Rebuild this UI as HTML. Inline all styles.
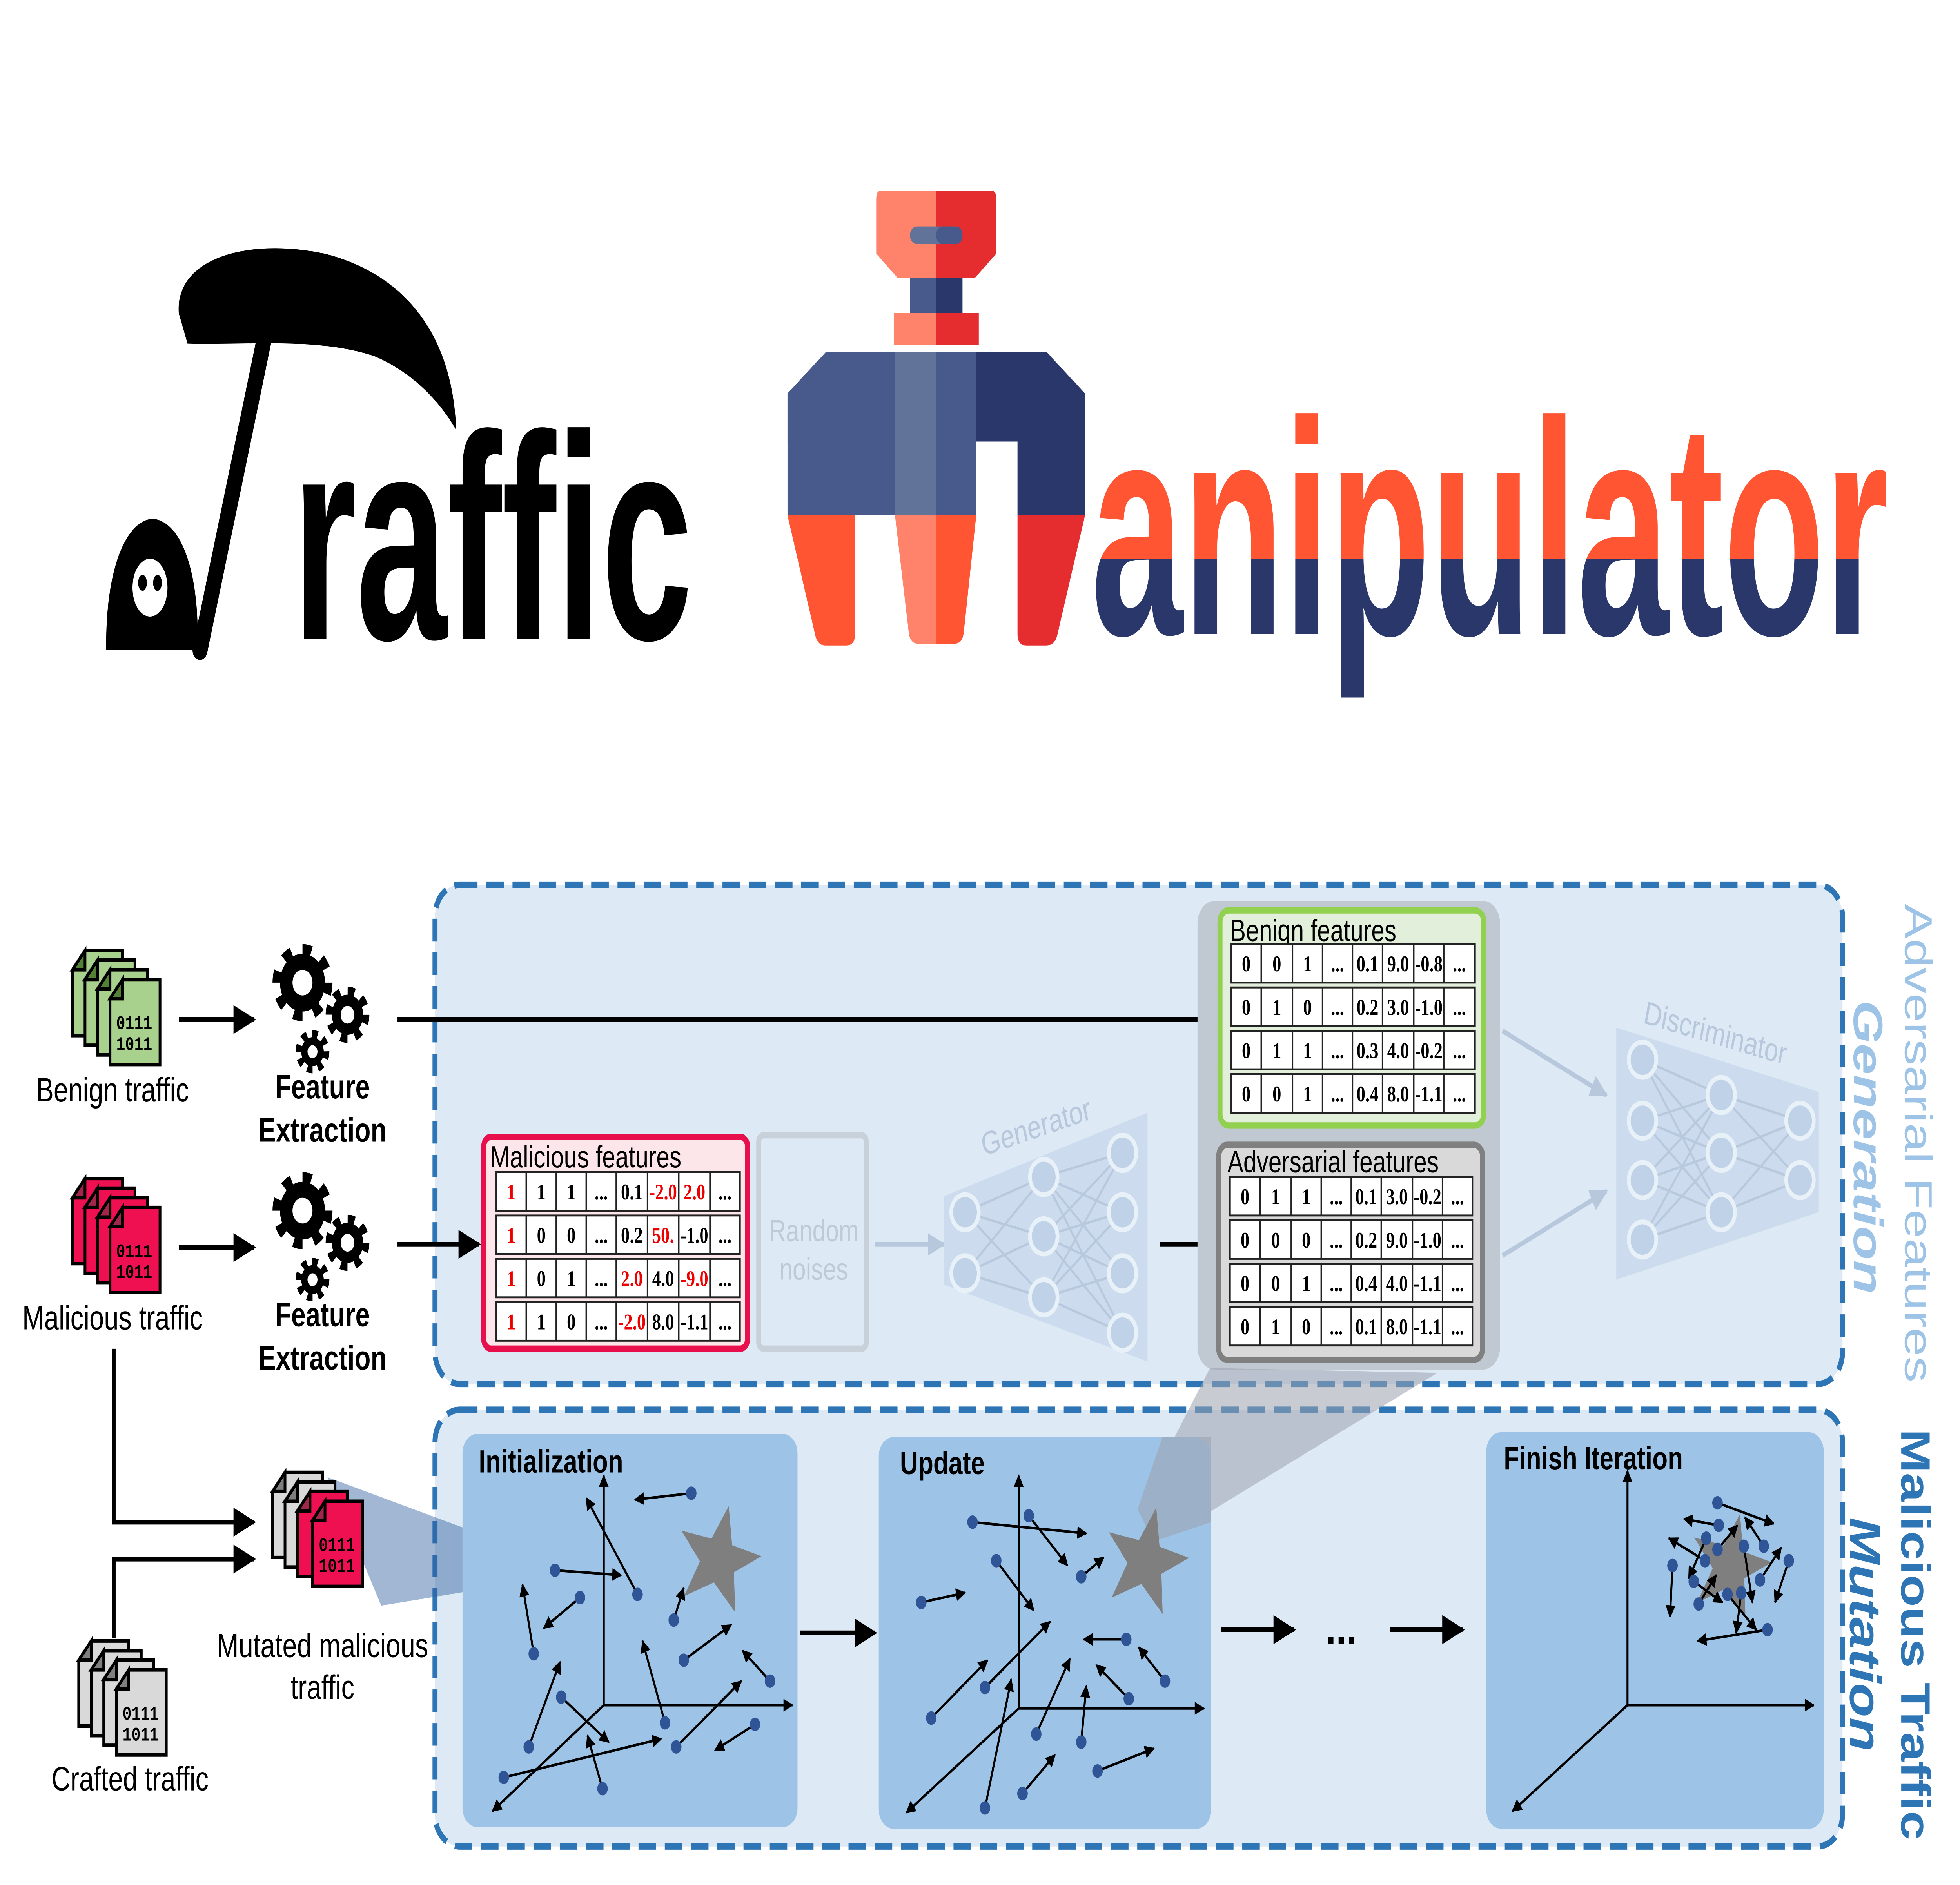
<!DOCTYPE html>
<html><head><meta charset="utf-8"><style>html,body{margin:0;padding:0;background:#fff;overflow:hidden;width:100%;height:100%}svg{display:block;position:fixed;left:0;top:0;width:100vw;height:100vh}</style></head>
<body>
<svg xmlns="http://www.w3.org/2000/svg" viewBox="0 0 1568 1174" preserveAspectRatio="none" font-family="'Liberation Sans', sans-serif">
<defs>
<marker id="ah" viewBox="0 0 10 10" refX="9" refY="5" markerWidth="10" markerHeight="8" markerUnits="userSpaceOnUse" orient="auto"><path d="M0,0L10,5L0,10Z" fill="#000"/></marker>
<marker id="big" viewBox="0 0 10 10" refX="9" refY="5" markerWidth="26" markerHeight="18" markerUnits="userSpaceOnUse" orient="auto"><path d="M0,0L10,5L0,10Z" fill="#000"/></marker>
<marker id="gah" viewBox="0 0 10 10" refX="9" refY="5" markerWidth="22" markerHeight="14" markerUnits="userSpaceOnUse" orient="auto"><path d="M0,0L10,5L0,10Z" fill="#b8c8dc"/></marker>
<clipPath id="ctop"><rect x="860" y="200" width="700" height="148"/></clipPath>
<clipPath id="cbot"><rect x="860" y="348" width="700" height="120"/></clipPath>
<g id="gear">
<circle cx="0" cy="0" r="20" fill="none" stroke="#000" stroke-width="8" stroke-dasharray="7 8.7"/>
<circle cx="0" cy="0" r="18" fill="#000"/><circle cx="0" cy="0" r="8" fill="#fff"/>
<g transform="translate(36,20)"><circle r="14.5" fill="none" stroke="#000" stroke-width="6" stroke-dasharray="5.5 5.9"/><circle r="12.5" fill="#000"/><circle r="5.5" fill="#fff"/></g>
<g transform="translate(8,43)"><circle r="11" fill="none" stroke="#000" stroke-width="5" stroke-dasharray="4.3 4.3"/><circle r="9" fill="#000"/><circle r="4" fill="#fff"/></g>
</g>
</defs>

<!-- Traffic logo -->
<path d="M143,195 C140,160 200,148 260,158 C320,170 362,205 365,268 C352,250 330,232 300,222 C255,210 200,215 150,214 Z" fill="#000"/>
<line x1="213" y1="205" x2="160" y2="405" stroke="#000" stroke-width="12" stroke-linecap="round"/>
<path d="M85,405 C84,360 98,325 122,323 C147,325 160,360 158,405 Z" fill="#000"/>
<ellipse cx="120" cy="366" rx="14" ry="18" fill="#fff"/>
<ellipse cx="114" cy="363" rx="3.5" ry="5" fill="#000"/><ellipse cx="126" cy="363" rx="3.5" ry="5" fill="#000"/>
<text x="234" y="398" font-family="'Liberation Sans Narrow','Liberation Sans',sans-serif" font-weight="bold" font-size="182" textLength="320" lengthAdjust="spacingAndGlyphs" fill="#000">raffic</text>

<!-- Claw -->
<path d="M704,119 H794 Q797,119 797,124 V158 L780,173 H718 L701,158 V124 Q701,119 704,119Z" fill="#ff826a"/>
<path d="M749,119 H794 Q797,119 797,124 V158 L780,173 H749Z" fill="#e52d2f"/>
<rect x="728" y="141" width="42" height="11" rx="5.5" fill="#627399"/><rect x="749" y="141" width="21" height="11" rx="5" fill="#485a8b"/>
<rect x="728" y="173" width="21" height="22" fill="#485a8b"/><rect x="749" y="173" width="21" height="22" fill="#2a376b"/>
<rect x="715" y="195" width="34" height="20" fill="#ff826a"/><rect x="749" y="195" width="34" height="20" fill="#e52d2f"/>
<path d="M661,219 H716 V321 H684 V275 H630 V245 Z" fill="#485a8b"/>
<path d="M630,245 V321 H684 V275 Z" fill="#485a8b"/>
<rect x="716" y="219" width="33" height="102" fill="#627399"/>
<rect x="749" y="219" width="32" height="102" fill="#485a8b"/>
<path d="M781,219 H837 L868,245 V321 H814 V275 H781 Z" fill="#2a376b"/>
<path d="M630,321 H684 V395 Q684,402 677,402 H660 Q654,402 652,395 Z" fill="#ff5533"/>
<path d="M716,321 H749 V401 H735 Q728,401 727,394 Z" fill="#ff826a"/>
<path d="M749,321 H781 L771,394 Q770,401 763,401 H749 Z" fill="#ff5533"/>
<path d="M814,321 H868 L846,395 Q844,402 837,402 H821 Q814,402 814,395 Z" fill="#e52d2f"/>
<g font-family="'Liberation Sans Narrow','Liberation Sans',sans-serif" font-weight="bold" font-size="190">
<text x="873" y="395" textLength="638" lengthAdjust="spacingAndGlyphs" fill="#ff5533" clip-path="url(#ctop)">anipulator</text>
<text x="873" y="395" textLength="638" lengthAdjust="spacingAndGlyphs" fill="#2a376b" clip-path="url(#cbot)">anipulator</text>
</g>

<!-- dashed containers -->
<rect x="348" y="551" width="1126" height="311" rx="20" fill="#dde9f5" stroke="#2e75b6" stroke-width="4" stroke-dasharray="14 7"/>
<rect x="348" y="878" width="1126" height="272" rx="20" fill="#dde9f5" stroke="#2e75b6" stroke-width="4" stroke-dasharray="14 7"/>

<!-- side labels -->
<g transform="translate(1524,563) rotate(90)"><text font-size="31" fill="#9dc3e6" textLength="298" lengthAdjust="spacingAndGlyphs">Adversarial Features</text></g>
<g transform="translate(1483,623) rotate(90)"><text font-size="33" font-weight="bold" font-style="italic" fill="#9dc3e6" textLength="183" lengthAdjust="spacingAndGlyphs">Generation</text></g>
<g transform="translate(1521,890) rotate(90)"><text font-size="33" font-weight="bold" fill="#2e75b6" textLength="256" lengthAdjust="spacingAndGlyphs">Malicious Traffic</text></g>
<g transform="translate(1480,945) rotate(90)"><text font-size="35" font-weight="bold" font-style="italic" fill="#2e75b6" textLength="146" lengthAdjust="spacingAndGlyphs">Mutation</text></g>

<!-- document icons -->
<g transform="translate(58,592)" stroke="#000" stroke-width="2.2">
<g><path d="M10,0H40V53H0V12Z" fill="#a9d18e"/><path d="M0,12L10,0V12Z" fill="#548235"/></g>
<g transform="translate(10,6)"><path d="M10,0H40V53H0V12Z" fill="#a9d18e"/><path d="M0,12L10,0V12Z" fill="#548235"/></g>
<g transform="translate(20,12)"><path d="M10,0H40V53H0V12Z" fill="#a9d18e"/><path d="M0,12L10,0V12Z" fill="#548235"/></g>
<g transform="translate(30,18)"><path d="M10,0H40V53H0V12Z" fill="#a9d18e"/><path d="M0,12L10,0V12Z" fill="#548235"/>
<text x="5" y="31" font-family="'Liberation Mono',monospace" font-weight="bold" font-size="12" stroke="none" fill="#000">0111</text><text x="5" y="44" font-family="'Liberation Mono',monospace" font-weight="bold" font-size="12" stroke="none" fill="#000">1011</text></g>
</g>
<g transform="translate(58,734)" stroke="#000" stroke-width="2.2">
<g><path d="M10,0H40V53H0V12Z" fill="#ee1050"/><path d="M0,12L10,0V12Z" fill="#a0274a"/></g>
<g transform="translate(10,6)"><path d="M10,0H40V53H0V12Z" fill="#ee1050"/><path d="M0,12L10,0V12Z" fill="#a0274a"/></g>
<g transform="translate(20,12)"><path d="M10,0H40V53H0V12Z" fill="#ee1050"/><path d="M0,12L10,0V12Z" fill="#a0274a"/></g>
<g transform="translate(30,18)"><path d="M10,0H40V53H0V12Z" fill="#ee1050"/><path d="M0,12L10,0V12Z" fill="#a0274a"/>
<text x="5" y="31" font-family="'Liberation Mono',monospace" font-weight="bold" font-size="12" stroke="none" fill="#000">0111</text><text x="5" y="44" font-family="'Liberation Mono',monospace" font-weight="bold" font-size="12" stroke="none" fill="#000">1011</text></g>
</g>
<g transform="translate(63,1022)" stroke="#000" stroke-width="2.2">
<g><path d="M10,0H40V53H0V12Z" fill="#d9d9d9"/><path d="M0,12L10,0V12Z" fill="#7f7f7f"/></g>
<g transform="translate(10,6)"><path d="M10,0H40V53H0V12Z" fill="#d9d9d9"/><path d="M0,12L10,0V12Z" fill="#7f7f7f"/></g>
<g transform="translate(20,12)"><path d="M10,0H40V53H0V12Z" fill="#d9d9d9"/><path d="M0,12L10,0V12Z" fill="#7f7f7f"/></g>
<g transform="translate(30,18)"><path d="M10,0H40V53H0V12Z" fill="#d9d9d9"/><path d="M0,12L10,0V12Z" fill="#7f7f7f"/>
<text x="5" y="31" font-family="'Liberation Mono',monospace" font-weight="bold" font-size="12" stroke="none" fill="#000">0111</text><text x="5" y="44" font-family="'Liberation Mono',monospace" font-weight="bold" font-size="12" stroke="none" fill="#000">1011</text></g>
</g>
<polygon points="262,920 445,973 445,982 305,1000" fill="#2e5fa0" opacity="0.45"/>
<g transform="translate(218,917)" stroke="#000" stroke-width="2.2">
<g><path d="M10,0H40V53H0V12Z" fill="#d9d9d9"/><path d="M0,12L10,0V12Z" fill="#7f7f7f"/></g>
<g transform="translate(10,6)"><path d="M10,0H40V53H0V12Z" fill="#d9d9d9"/><path d="M0,12L10,0V12Z" fill="#7f7f7f"/></g>
<g transform="translate(20,12)"><path d="M10,0H40V53H0V12Z" fill="#ee1050"/><path d="M0,12L10,0V12Z" fill="#a0274a"/></g>
<g transform="translate(32,18)"><path d="M10,0H40V53H0V12Z" fill="#ee1050"/><path d="M0,12L10,0V12Z" fill="#a0274a"/>
<text x="5" y="31" font-family="'Liberation Mono',monospace" font-weight="bold" font-size="12" stroke="none" fill="#000">0111</text><text x="5" y="44" font-family="'Liberation Mono',monospace" font-weight="bold" font-size="12" stroke="none" fill="#000">1011</text></g>
</g>

<g font-size="21" fill="#000" text-anchor="middle">
<text x="90" y="686">Benign traffic</text>
<text x="90" y="828">Malicious traffic</text>
<text x="104" y="1115">Crafted traffic</text>
<text x="258" y="1032">Mutated malicious</text>
<text x="258" y="1058">traffic</text>
<g font-weight="bold"><text x="258" y="684">Feature</text><text x="258" y="711">Extraction</text>
<text x="258" y="826">Feature</text><text x="258" y="853">Extraction</text></g>
</g>
<use href="#gear" x="242" y="612"/>
<use href="#gear" x="242" y="754"/>

<g stroke="#000" stroke-width="3" fill="none">
<line x1="143" y1="635" x2="203" y2="635" marker-end="url(#big)"/>
<line x1="143" y1="777" x2="203" y2="777" marker-end="url(#big)"/>
<line x1="318" y1="635" x2="975" y2="635" marker-end="url(#big)"/>
<line x1="318" y1="775" x2="383" y2="775" marker-end="url(#big)"/>
<polyline points="91,840 91,948 203,948" marker-end="url(#big)"/>
<polyline points="91,1020 91,971 203,971" marker-end="url(#big)"/>
<line x1="928" y1="775" x2="975" y2="775" marker-end="url(#big)"/>
<line x1="640" y1="1017" x2="700" y2="1017" marker-end="url(#big)"/>
<line x1="977" y1="1015" x2="1035" y2="1015" marker-end="url(#big)"/>
<line x1="1112" y1="1015" x2="1170" y2="1015" marker-end="url(#big)"/>
</g>
<text x="1073" y="1024" font-size="30" font-weight="bold" text-anchor="middle">...</text>

<!-- Malicious features -->
<rect x="387" y="708" width="211" height="132" rx="6" fill="#fde6ea" stroke="#e8104c" stroke-width="4"/>
<text x="392" y="727" font-size="19">Malicious features</text>
<g stroke="#222" stroke-width="1.2" fill="#fff">
<rect x="397" y="730" width="195" height="24"/><rect x="397" y="757" width="195" height="24"/><rect x="397" y="784" width="195" height="24"/><rect x="397" y="811" width="195" height="24"/>
<path d="M421,730V754M445,730V754M469,730V754M493,730V754M518,730V754M543,730V754M568,730V754M421,757V781M445,757V781M469,757V781M493,757V781M518,757V781M543,757V781M568,757V781M421,784V808M445,784V808M469,784V808M493,784V808M518,784V808M543,784V808M568,784V808M421,811V835M445,811V835M469,811V835M493,811V835M518,811V835M543,811V835M568,811V835"/>
</g>
<g font-family="'Liberation Serif',serif" font-weight="bold" font-size="14" text-anchor="middle" fill="#000">
<text x="409" y="747" fill="#e00">1</text><text x="433" y="747">1</text><text x="457" y="747">1</text><text x="481" y="747">...</text><text x="505.5" y="747">0.1</text><text x="530.5" y="747" fill="#e00">-2.0</text><text x="555.5" y="747" fill="#e00">2.0</text><text x="580" y="747">...</text>
<text x="409" y="774" fill="#e00">1</text><text x="433" y="774">0</text><text x="457" y="774">0</text><text x="481" y="774">...</text><text x="505.5" y="774">0.2</text><text x="530.5" y="774" fill="#e00">50.</text><text x="555.5" y="774">-1.0</text><text x="580" y="774">...</text>
<text x="409" y="801" fill="#e00">1</text><text x="433" y="801">0</text><text x="457" y="801">1</text><text x="481" y="801">...</text><text x="505.5" y="801" fill="#e00">2.0</text><text x="530.5" y="801">4.0</text><text x="555.5" y="801" fill="#e00">-9.0</text><text x="580" y="801">...</text>
<text x="409" y="828" fill="#e00">1</text><text x="433" y="828">1</text><text x="457" y="828">0</text><text x="481" y="828">...</text><text x="505.5" y="828" fill="#e00">-2.0</text><text x="530.5" y="828">8.0</text><text x="555.5" y="828">-1.1</text><text x="580" y="828">...</text>
</g>

<rect x="607" y="707" width="86" height="133" rx="4" fill="#dde9f5" stroke="#c8d0da" stroke-width="4"/>
<text x="651" y="773" font-size="19" fill="#c0cad5" text-anchor="middle">Random</text>
<text x="651" y="797" font-size="19" fill="#c0cad5" text-anchor="middle">noises</text>
<line x1="700" y1="775" x2="755" y2="775" stroke="#b8c8dc" stroke-width="3" marker-end="url(#gah)"/>

<polygon points="755,745 918,693 918,848 755,800" fill="#c8d8ec" opacity="0.8"/>
<g stroke="#b8c9de" stroke-width="1.5">
<path d="M772,755L835,733M772,755L835,770M772,755L835,808M772,793L835,733M772,793L835,770M772,793L835,808M835,733L898,718M835,733L898,755M835,733L898,793M835,733L898,830M835,770L898,718M835,770L898,755M835,770L898,793M835,770L898,830M835,808L898,718M835,808L898,755M835,808L898,793M835,808L898,830"/>
</g>
<g fill="#c0d2e8" stroke="#e8f0f8" stroke-width="3">
<circle cx="772" cy="755" r="11"/><circle cx="772" cy="793" r="11"/>
<circle cx="835" cy="733" r="11"/><circle cx="835" cy="770" r="11"/><circle cx="835" cy="808" r="11"/>
<circle cx="898" cy="718" r="11"/><circle cx="898" cy="755" r="11"/><circle cx="898" cy="793" r="11"/><circle cx="898" cy="830" r="11"/>
</g>
<text x="787" y="720" font-size="20" fill="#b8c8dc" transform="rotate(-15 787 720)">Generator</text>

<rect x="958" y="561" width="242" height="292" rx="14" fill="#c0c8d2"/>
<polygon points="968,852 1150,855 925,962 910,940" fill="#9aa3ad" opacity="0.55"/>
<rect x="976" y="567" width="211" height="134" rx="7" fill="#e2efda" stroke="#92d050" stroke-width="4"/>
<text x="984" y="586" font-size="19">Benign features</text>
<g stroke="#222" stroke-width="1.2" fill="#fff">
<rect x="985" y="588" width="195" height="24"/><rect x="985" y="615" width="195" height="24"/><rect x="985" y="642" width="195" height="24"/><rect x="985" y="669" width="195" height="24"/>
<path d="M1009,588V612M1034,588V612M1058,588V612M1082,588V612M1106,588V612M1131,588V612M1155,588V612M1009,615V639M1034,615V639M1058,615V639M1082,615V639M1106,615V639M1131,615V639M1155,615V639M1009,642V666M1034,642V666M1058,642V666M1082,642V666M1106,642V666M1131,642V666M1155,642V666M1009,669V693M1034,669V693M1058,669V693M1082,669V693M1106,669V693M1131,669V693M1155,669V693"/>
</g>
<g font-family="'Liberation Serif',serif" font-weight="bold" font-size="14" text-anchor="middle">
<text x="997" y="605">0</text><text x="1021.5" y="605">0</text><text x="1046" y="605">1</text><text x="1070" y="605">...</text><text x="1094" y="605">0.1</text><text x="1118.5" y="605">9.0</text><text x="1143" y="605">-0.8</text><text x="1167.5" y="605">...</text>
<text x="997" y="632">0</text><text x="1021.5" y="632">1</text><text x="1046" y="632">0</text><text x="1070" y="632">...</text><text x="1094" y="632">0.2</text><text x="1118.5" y="632">3.0</text><text x="1143" y="632">-1.0</text><text x="1167.5" y="632">...</text>
<text x="997" y="659">0</text><text x="1021.5" y="659">1</text><text x="1046" y="659">1</text><text x="1070" y="659">...</text><text x="1094" y="659">0.3</text><text x="1118.5" y="659">4.0</text><text x="1143" y="659">-0.2</text><text x="1167.5" y="659">...</text>
<text x="997" y="686">0</text><text x="1021.5" y="686">0</text><text x="1046" y="686">1</text><text x="1070" y="686">...</text><text x="1094" y="686">0.4</text><text x="1118.5" y="686">8.0</text><text x="1143" y="686">-1.1</text><text x="1167.5" y="686">...</text>
</g>
<rect x="975" y="713" width="211" height="134" rx="7" fill="#d9d9d9" stroke="#808080" stroke-width="4"/>
<text x="982" y="730" font-size="19">Adversarial features</text>
<g stroke="#222" stroke-width="1.2" fill="#fff">
<rect x="984" y="733" width="194" height="24"/><rect x="984" y="760" width="194" height="24"/><rect x="984" y="787" width="194" height="24"/><rect x="984" y="814" width="194" height="24"/>
<path d="M1008,733V757M1033,733V757M1057,733V757M1081,733V757M1105,733V757M1130,733V757M1154,733V757M1008,760V784M1033,760V784M1057,760V784M1081,760V784M1105,760V784M1130,760V784M1154,760V784M1008,787V811M1033,787V811M1057,787V811M1081,787V811M1105,787V811M1130,787V811M1154,787V811M1008,814V838M1033,814V838M1057,814V838M1081,814V838M1105,814V838M1130,814V838M1154,814V838"/>
</g>
<g font-family="'Liberation Serif',serif" font-weight="bold" font-size="14" text-anchor="middle">
<text x="996" y="750">0</text><text x="1020.5" y="750">1</text><text x="1045" y="750">1</text><text x="1069" y="750">...</text><text x="1093" y="750">0.1</text><text x="1117.5" y="750">3.0</text><text x="1142" y="750">-0.2</text><text x="1166" y="750">...</text>
<text x="996" y="777">0</text><text x="1020.5" y="777">0</text><text x="1045" y="777">0</text><text x="1069" y="777">...</text><text x="1093" y="777">0.2</text><text x="1117.5" y="777">9.0</text><text x="1142" y="777">-1.0</text><text x="1166" y="777">...</text>
<text x="996" y="804">0</text><text x="1020.5" y="804">0</text><text x="1045" y="804">1</text><text x="1069" y="804">...</text><text x="1093" y="804">0.4</text><text x="1117.5" y="804">4.0</text><text x="1142" y="804">-1.1</text><text x="1166" y="804">...</text>
<text x="996" y="831">0</text><text x="1020.5" y="831">1</text><text x="1045" y="831">0</text><text x="1069" y="831">...</text><text x="1093" y="831">0.1</text><text x="1117.5" y="831">8.0</text><text x="1142" y="831">-1.1</text><text x="1166" y="831">...</text>
</g>

<line x1="1202" y1="642" x2="1285" y2="682" stroke="#b8c8dc" stroke-width="3" marker-end="url(#gah)"/>
<line x1="1202" y1="782" x2="1285" y2="742" stroke="#b8c8dc" stroke-width="3" marker-end="url(#gah)"/>
<polygon points="1293,640 1455,680 1455,755 1293,797" fill="#c8d8ec" opacity="0.8"/>
<g stroke="#b8c9de" stroke-width="1.5">
<path d="M1314,660L1377,682M1314,660L1377,718M1314,660L1377,755M1314,698L1377,682M1314,698L1377,718M1314,698L1377,755M1314,735L1377,682M1314,735L1377,718M1314,735L1377,755M1314,772L1377,682M1314,772L1377,718M1314,772L1377,755M1377,682L1440,698M1377,682L1440,735M1377,718L1440,698M1377,718L1440,735M1377,755L1440,698M1377,755L1440,735"/>
</g>
<g fill="#c0d2e8" stroke="#e8f0f8" stroke-width="3">
<circle cx="1314" cy="660" r="11"/><circle cx="1314" cy="698" r="11"/><circle cx="1314" cy="735" r="11"/><circle cx="1314" cy="772" r="11"/>
<circle cx="1377" cy="682" r="11"/><circle cx="1377" cy="718" r="11"/><circle cx="1377" cy="755" r="11"/>
<circle cx="1440" cy="698" r="11"/><circle cx="1440" cy="735" r="11"/>
</g>
<text x="1314" y="637" font-size="20" fill="#b8c8dc" transform="rotate(13 1314 637)">Discriminator</text>

<rect x="370" y="893" width="268" height="245" rx="12" fill="#9dc3e6"/>
<rect x="703" y="895" width="266" height="244" rx="12" fill="#9dc3e6"/>
<rect x="1189" y="892" width="270" height="247" rx="12" fill="#9dc3e6"/>
<polygon points="930,895 969,895 969,948 923,960 910,940" fill="#9aa3ad" opacity="0.55"/>
<g font-size="20" font-weight="bold"><text x="383" y="917">Initialization</text><text x="720" y="918">Update</text><text x="1203" y="915">Finish Iteration</text></g>

<polygon points="575,937 583.5,960 608,961 589,976 596,1000 575,986 554,1000 561,976 542,961 566.5,960" fill="#7f7f7f" transform="rotate(14 575 970)"/>
<polygon points="917,938 925.5,961 950,962 931,977 938,1001 917,987 896,1001 903,977 884,962 908.5,961" fill="#7f7f7f" transform="rotate(14 917 971)"/>
<polygon points="1384,942 1392,964 1416,965 1397,980 1404,1004 1384,990 1364,1004 1371,980 1352,965 1376,964" fill="#7f7f7f" transform="rotate(14 1384 975)"/>

<g stroke="#000" stroke-width="1.6" fill="none">
<line x1="483" y1="1062" x2="483" y2="919" marker-end="url(#ah)"/><line x1="483" y1="1062" x2="634" y2="1062" marker-end="url(#ah)"/><line x1="483" y1="1062" x2="394" y2="1128" marker-end="url(#ah)"/>
<line x1="815" y1="1064" x2="815" y2="919" marker-end="url(#ah)"/><line x1="815" y1="1064" x2="963" y2="1064" marker-end="url(#ah)"/><line x1="815" y1="1064" x2="725" y2="1129" marker-end="url(#ah)"/>
<line x1="1302" y1="1062" x2="1302" y2="916" marker-end="url(#ah)"/><line x1="1302" y1="1062" x2="1451" y2="1062" marker-end="url(#ah)"/><line x1="1302" y1="1062" x2="1210" y2="1128" marker-end="url(#ah)"/>
<line x1="444" y1="978" x2="497" y2="981" marker-end="url(#ah)"/>
<line x1="464" y1="995" x2="435" y2="1014" marker-end="url(#ah)"/>
<line x1="427" y1="1030" x2="418" y2="987" marker-end="url(#ah)"/>
<line x1="510" y1="993" x2="469" y2="933" marker-end="url(#ah)"/>
<line x1="553" y1="930" x2="508" y2="934" marker-end="url(#ah)"/>
<line x1="539" y1="1009" x2="547" y2="989" marker-end="url(#ah)"/>
<line x1="547" y1="1034" x2="585" y2="1012" marker-end="url(#ah)"/>
<line x1="616" y1="1047" x2="594" y2="1028" marker-end="url(#ah)"/>
<line x1="449" y1="1057" x2="487" y2="1085" marker-end="url(#ah)"/>
<line x1="532" y1="1073" x2="514" y2="1022" marker-end="url(#ah)"/>
<line x1="423" y1="1088" x2="448" y2="1035" marker-end="url(#ah)"/>
<line x1="541" y1="1088" x2="593" y2="1047" marker-end="url(#ah)"/>
<line x1="604" y1="1074" x2="572" y2="1090" marker-end="url(#ah)"/>
<line x1="403" y1="1107" x2="529" y2="1083" marker-end="url(#ah)"/>
<line x1="482" y1="1114" x2="470" y2="1081" marker-end="url(#ah)"/>
<line x1="778" y1="948" x2="869" y2="955" marker-end="url(#ah)"/>
<line x1="823" y1="944" x2="854" y2="975" marker-end="url(#ah)"/>
<line x1="797" y1="972" x2="827" y2="1003" marker-end="url(#ah)"/>
<line x1="865" y1="982" x2="883" y2="970" marker-end="url(#ah)"/>
<line x1="737" y1="998" x2="772" y2="992" marker-end="url(#ah)"/>
<line x1="901" y1="1021" x2="867" y2="1021" marker-end="url(#ah)"/>
<line x1="932" y1="1047" x2="911" y2="1026" marker-end="url(#ah)"/>
<line x1="903" y1="1058" x2="877" y2="1037" marker-end="url(#ah)"/>
<line x1="788" y1="1051" x2="840" y2="1010" marker-end="url(#ah)"/>
<line x1="745" y1="1070" x2="790" y2="1034" marker-end="url(#ah)"/>
<line x1="829" y1="1080" x2="856" y2="1033" marker-end="url(#ah)"/>
<line x1="865" y1="1085" x2="869" y2="1050" marker-end="url(#ah)"/>
<line x1="788" y1="1126" x2="809" y2="1046" marker-end="url(#ah)"/>
<line x1="818" y1="1117" x2="844" y2="1093" marker-end="url(#ah)"/>
<line x1="878" y1="1103" x2="923" y2="1089" marker-end="url(#ah)"/>
<line x1="1374" y1="936" x2="1419" y2="949" marker-end="url(#ah)"/>
<line x1="1375" y1="950" x2="1347" y2="946" marker-end="url(#ah)"/>
<line x1="1365" y1="958" x2="1351" y2="983" marker-end="url(#ah)"/>
<line x1="1374" y1="965" x2="1390" y2="950" marker-end="url(#ah)"/>
<line x1="1364" y1="972" x2="1335" y2="958" marker-end="url(#ah)"/>
<line x1="1395" y1="963" x2="1402" y2="998" marker-end="url(#ah)"/>
<line x1="1411" y1="963" x2="1396" y2="945" marker-end="url(#ah)"/>
<line x1="1431" y1="972" x2="1420" y2="998" marker-end="url(#ah)"/>
<line x1="1338" y1="975" x2="1336" y2="1007" marker-end="url(#ah)"/>
<line x1="1408" y1="984" x2="1425" y2="964" marker-end="url(#ah)"/>
<line x1="1355" y1="985" x2="1378" y2="998" marker-end="url(#ah)"/>
<line x1="1359" y1="999" x2="1373" y2="981" marker-end="url(#ah)"/>
<line x1="1382" y1="993" x2="1405" y2="1015" marker-end="url(#ah)"/>
<line x1="1393" y1="992" x2="1389" y2="1017" marker-end="url(#ah)"/>
<line x1="1414" y1="1015" x2="1358" y2="1022" marker-end="url(#ah)"/>
</g>
<g fill="#2f5597">
<circle cx="444" cy="978" r="4.2"/><circle cx="464" cy="995" r="4.2"/><circle cx="427" cy="1030" r="4.2"/><circle cx="510" cy="993" r="4.2"/><circle cx="553" cy="930" r="4.2"/><circle cx="539" cy="1009" r="4.2"/><circle cx="547" cy="1034" r="4.2"/><circle cx="616" cy="1047" r="4.2"/><circle cx="449" cy="1057" r="4.2"/><circle cx="532" cy="1073" r="4.2"/><circle cx="423" cy="1088" r="4.2"/><circle cx="541" cy="1088" r="4.2"/><circle cx="604" cy="1074" r="4.2"/><circle cx="403" cy="1107" r="4.2"/><circle cx="482" cy="1114" r="4.2"/>
<circle cx="778" cy="948" r="4.2"/><circle cx="823" cy="944" r="4.2"/><circle cx="797" cy="972" r="4.2"/><circle cx="865" cy="982" r="4.2"/><circle cx="737" cy="998" r="4.2"/><circle cx="901" cy="1021" r="4.2"/><circle cx="932" cy="1047" r="4.2"/><circle cx="903" cy="1058" r="4.2"/><circle cx="788" cy="1051" r="4.2"/><circle cx="745" cy="1070" r="4.2"/><circle cx="829" cy="1080" r="4.2"/><circle cx="865" cy="1085" r="4.2"/><circle cx="788" cy="1126" r="4.2"/><circle cx="818" cy="1117" r="4.2"/><circle cx="878" cy="1103" r="4.2"/>
<circle cx="1374" cy="936" r="4.2"/><circle cx="1375" cy="950" r="4.2"/><circle cx="1365" cy="958" r="4.2"/><circle cx="1374" cy="965" r="4.2"/><circle cx="1364" cy="972" r="4.2"/><circle cx="1395" cy="963" r="4.2"/><circle cx="1411" cy="963" r="4.2"/><circle cx="1431" cy="972" r="4.2"/><circle cx="1338" cy="975" r="4.2"/><circle cx="1408" cy="984" r="4.2"/><circle cx="1355" cy="985" r="4.2"/><circle cx="1359" cy="999" r="4.2"/><circle cx="1382" cy="993" r="4.2"/><circle cx="1393" cy="992" r="4.2"/><circle cx="1414" cy="1015" r="4.2"/>
</g>
</svg>
</body></html>
